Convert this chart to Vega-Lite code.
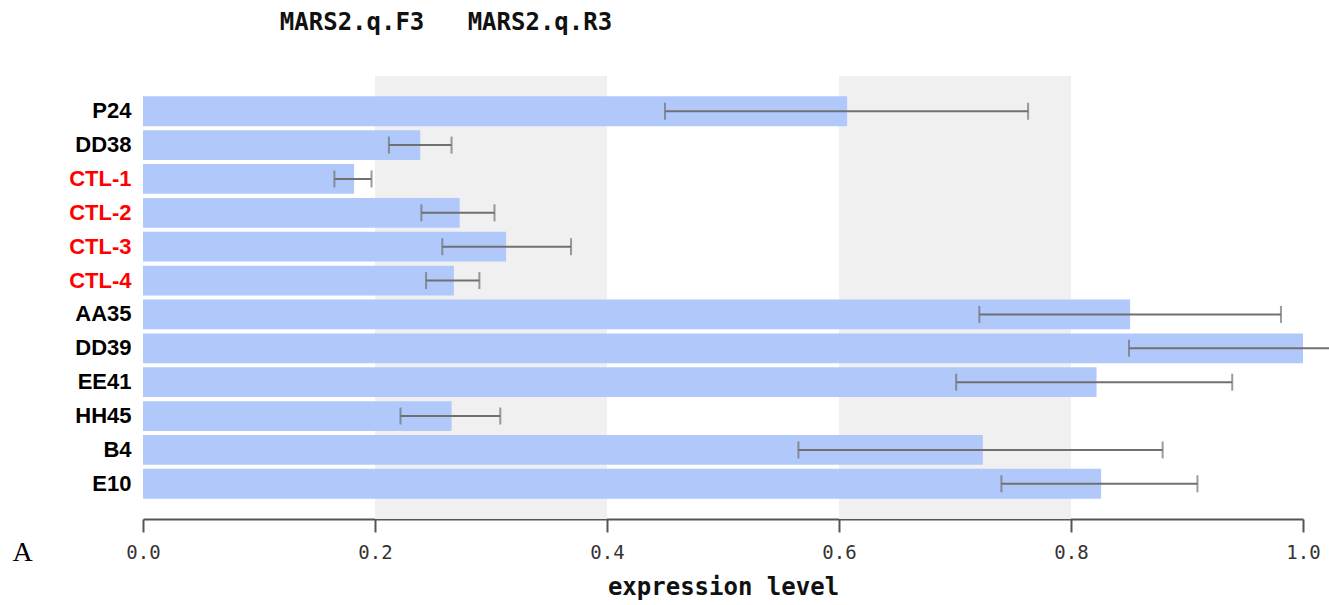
{
  "$schema": "https://vega.github.io/schema/vega-lite/v6.json",
  "autosize": {"type": "none"},
  "width": 1160,
  "height": 443,
  "padding": {"left": 143, "top": 76, "right": 26, "bottom": 86},
  "background": "white",
  "config": {"view": {"stroke": null}},
  "title": {
    "text": "MARS2.q.F3\u00a0\u00a0\u00a0MARS2.q.R3",
    "anchor": "middle",
    "dx": -277,
    "offset": 41,
    "font": "DejaVu Sans Mono",
    "fontWeight": "bold",
    "fontSize": 24,
    "color": "#111"
  },
  "datasets": {
    "bands": [
      {"from": 0.2, "to": 0.4},
      {"from": 0.6, "to": 0.8}
    ],
    "expr": [
      {"sample": "P24", "level": 0.607, "lo": 0.450, "hi": 0.763},
      {"sample": "DD38", "level": 0.239, "lo": 0.212, "hi": 0.266},
      {"sample": "CTL-1", "level": 0.182, "lo": 0.165, "hi": 0.197},
      {"sample": "CTL-2", "level": 0.273, "lo": 0.240, "hi": 0.303},
      {"sample": "CTL-3", "level": 0.313, "lo": 0.258, "hi": 0.369},
      {"sample": "CTL-4", "level": 0.268, "lo": 0.244, "hi": 0.290},
      {"sample": "AA35", "level": 0.851, "lo": 0.721, "hi": 0.981},
      {"sample": "DD39", "level": 1.0, "lo": 0.850, "hi": 1.15},
      {"sample": "EE41", "level": 0.822, "lo": 0.701, "hi": 0.939},
      {"sample": "HH45", "level": 0.266, "lo": 0.222, "hi": 0.308},
      {"sample": "B4", "level": 0.724, "lo": 0.565, "hi": 0.879},
      {"sample": "E10", "level": 0.826, "lo": 0.740, "hi": 0.909}
    ]
  },
  "layer": [
    {
      "data": {"name": "bands"},
      "mark": {"type": "rect", "color": "#f0f0f0"},
      "encoding": {
        "x": {"field": "from", "type": "quantitative", "scale": {"domain": [0, 1], "nice": false}},
        "x2": {"field": "to"}
      }
    },
    {
      "data": {"name": "expr"},
      "layer": [
        {
          "mark": {"type": "bar", "color": "#b0c8fa"},
          "encoding": {
            "y": {
              "field": "sample",
              "type": "nominal",
              "sort": null,
              "scale": {"paddingInner": 0.12, "paddingOuter": 0.6},
              "axis": {
                "title": "A",
                "titleAngle": 0,
                "titleFont": "Liberation Serif",
                "titleFontWeight": "normal",
                "titleFontSize": 28,
                "titleColor": "#000",
                "titleAlign": "center",
                "titleBaseline": "middle",
                "titleX": -121,
                "titleY": 476,
                "domain": false,
                "ticks": false,
                "labelPadding": 12,
                "labelFont": "Liberation Sans",
                "labelFontWeight": "bold",
                "labelFontSize": 22,
                "labelColor": {"condition": {"test": "indexof(datum.value, 'CTL') == 0", "value": "#ff0000"}, "value": "#000000"}
              }
            },
            "x": {
              "field": "level",
              "type": "quantitative",
              "scale": {"domain": [0, 1], "nice": false},
              "axis": {
                "title": "expression level",
                "values": [0, 0.2, 0.4, 0.6, 0.8, 1.0],
                "format": ".1f",
                "grid": false,
                "labelFlush": false,
                "domainColor": "#555",
                "domainWidth": 2,
                "tickColor": "#555",
                "tickWidth": 2,
                "tickSize": 13,
                "labelPadding": 11,
                "labelFont": "DejaVu Sans Mono",
                "labelFontSize": 19,
                "labelColor": "#333",
                "titleFont": "DejaVu Sans Mono",
                "titleFontWeight": "bold",
                "titleFontSize": 24,
                "titleColor": "#111",
                "titlePadding": 13
              }
            }
          }
        },
        {
          "mark": {"type": "rule", "color": "#707070", "strokeWidth": 2},
          "encoding": {
            "y": {"field": "sample", "type": "nominal", "sort": null},
            "x": {"field": "lo", "type": "quantitative"},
            "x2": {"field": "hi"}
          }
        },
        {
          "mark": {"type": "tick", "color": "#707070", "thickness": 2, "size": 17},
          "encoding": {
            "y": {"field": "sample", "type": "nominal", "sort": null},
            "x": {"field": "lo", "type": "quantitative"}
          }
        },
        {
          "mark": {"type": "tick", "color": "#707070", "thickness": 2, "size": 17},
          "encoding": {
            "y": {"field": "sample", "type": "nominal", "sort": null},
            "x": {"field": "hi", "type": "quantitative"}
          }
        }
      ]
    }
  ]
}
